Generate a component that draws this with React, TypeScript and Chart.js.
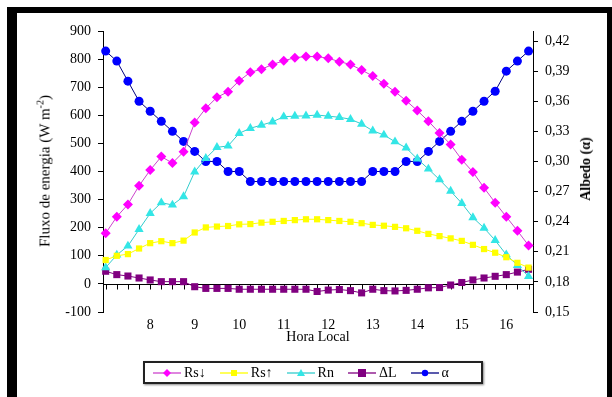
import React, { useEffect, useRef } from 'react';
import { Chart, registerables } from 'chart.js';

Chart.register(...registerables);

// Hora local (every 15 minutes)
const TIMES = [
  7, 7.25, 7.5, 7.75, 8, 8.25, 8.5, 8.75, 9, 9.25, 9.5, 9.75, 10,
  10.25, 10.5, 10.75, 11, 11.25, 11.5, 11.75, 12, 12.25, 12.5, 12.75,
  13, 13.25, 13.5, 13.75, 14, 14.25, 14.5, 14.75, 15, 15.25, 15.5, 15.75,
  16, 16.25, 16.5,
];

// Rs↓ (W m-2)
const RS_DOWN = [
  180, 239, 283, 349, 405, 453, 430, 470, 574, 625, 664, 684, 723,
  753, 764, 781, 794, 805, 809, 809, 803, 791, 781, 761,
  740, 712, 684, 652, 617, 579, 537, 496, 442, 398, 342, 289,
  239, 189, 137,
];

// Rs↑ (W m-2)
const RS_UP = [
  85, 100, 106, 126, 145, 152, 145, 154, 183, 201, 204, 206, 212,
  213, 218, 221, 224, 227, 230, 230, 227, 224, 221, 216,
  210, 207, 203, 198, 189, 178, 170, 162, 153, 139, 124, 111,
  95, 75, 58,
];

// Rn (W m-2)
const RN = [
  58, 103, 135, 194, 251, 289, 281, 311, 399, 447, 486, 491, 536,
  554, 565, 577, 595, 597, 598, 601, 597, 593, 586, 569,
  545, 530, 506, 484, 445, 409, 371, 330, 287, 236, 199, 155,
  104, 66, 27,
];

// ΔL (W m-2)
const DELTA_L = [
  45, 33, 28, 21, 14, 8, 8, 8, -10, -16, -16, -16, -19,
  -19, -19, -19, -19, -19, -19, -27, -22, -20, -24, -32,
  -19, -24, -25, -23, -19, -14, -13, -4, 5, 14, 21, 27,
  33, 42, 52,
];

// Albedo α
const ALBEDO = [
  0.41, 0.40, 0.38, 0.36, 0.35, 0.34, 0.33, 0.32, 0.31, 0.30, 0.30, 0.29, 0.29,
  0.28, 0.28, 0.28, 0.28, 0.28, 0.28, 0.28, 0.28, 0.28, 0.28, 0.28,
  0.29, 0.29, 0.29, 0.30, 0.30, 0.31, 0.32, 0.33, 0.34, 0.35, 0.36, 0.37,
  0.39, 0.40, 0.41,
];

const LEFT_TICKS = [-100, 0, 100, 200, 300, 400, 500, 600, 700, 800, 900];
const RIGHT_TICKS = [0.15, 0.18, 0.21, 0.24, 0.27, 0.30, 0.33, 0.36, 0.39, 0.42];
const X_LABELS = [8, 9, 10, 11, 12, 13, 14, 15, 16];

const SERIF = '"Liberation Serif", "Times New Roman", serif';

const pts = (ys: number[]) => TIMES.map((t, i) => ({ x: t, y: ys[i] }));

type LegendItem = { label: string; line: string; fill: string; shape: 'diamond' | 'square' | 'triangle' | 'bigsquare' | 'circle' };

const LEGEND: LegendItem[] = [
  { label: 'Rs\u2193', line: '#cc44cc', fill: '#ff00ff', shape: 'diamond' },
  { label: 'Rs\u2191', line: '#ffff00', fill: '#ffff00', shape: 'square' },
  { label: 'Rn', line: '#33cccc', fill: '#33e6e6', shape: 'triangle' },
  { label: '\u0394L', line: '#800080', fill: '#800080', shape: 'bigsquare' },
  { label: '\u03b1', line: '#000080', fill: '#0000ff', shape: 'circle' },
];

function Icon({ it }: { it: LegendItem }) {
  const c = 14;
  let m: React.ReactNode = null;
  if (it.shape === 'diamond') m = <polygon points={`${c},1 ${c + 4},5 ${c},9 ${c - 4},5`} fill={it.fill} />;
  if (it.shape === 'square') m = <rect x={c - 3} y={2} width={6} height={6} fill={it.fill} />;
  if (it.shape === 'bigsquare') m = <rect x={c - 4} y={1} width={8} height={8} fill={it.fill} />;
  if (it.shape === 'triangle') m = <polygon points={`${c},1 ${c + 4},8 ${c - 4},8`} fill={it.fill} />;
  if (it.shape === 'circle') m = <circle cx={c} cy={5} r={3.2} fill={it.fill} />;
  return (
    <svg width={28} height={10} style={{ display: 'block' }}>
      <line x1={0} y1={5} x2={28} y2={5} stroke={it.line} strokeWidth={1.3} />
      {m}
    </svg>
  );
}

export default function App() {
  const ref = useRef<HTMLCanvasElement>(null);

  useEffect(() => {
    const canvas = ref.current;
    if (!canvas) return;

    const zeroAxis = {
      id: 'zeroAxis',
      beforeDatasetsDraw(chart: any) {
        const { ctx, chartArea, scales } = chart;
        const y0 = Math.round(scales.y.getPixelForValue(0)) + 0.5;
        ctx.save();
        ctx.strokeStyle = '#000';
        ctx.lineWidth = 1;
        ctx.beginPath();
        ctx.moveTo(chartArea.left, y0);
        ctx.lineTo(chartArea.right, y0);
        scales.x.ticks.forEach((t: any) => {
          const x = Math.round(scales.x.getPixelForValue(t.value)) + 0.5;
          ctx.moveTo(x, y0);
          ctx.lineTo(x, y0 + 5);
        });
        ctx.stroke();
        ctx.restore();
      },
    };

    const ds = (label: string, data: any[], line: string, fill: string, style: any, radius: number, axis = 'y') => ({
      label,
      data,
      yAxisID: axis,
      borderColor: line,
      borderWidth: 1,
      backgroundColor: fill,
      pointBackgroundColor: fill,
      pointBorderColor: fill,
      pointBorderWidth: 0,
      pointStyle: style,
      pointRadius: radius,
      tension: 0,
      clip: 10,
    });

    const chart = new Chart(canvas, {
      type: 'line',
      data: {
        datasets: [
          ds('Rs\u2193', pts(RS_DOWN), '#cc44cc', '#ff00ff', 'rectRot', 5),
          ds('Rs\u2191', pts(RS_UP), '#ffff00', '#ffff00', 'rect', 4.4),
          ds('Rn', pts(RN), '#33cccc', '#33e6e6', 'triangle', 5.3),
          ds('\u0394L', pts(DELTA_L), '#800080', '#800080', 'rect', 5),
          ds('\u03b1', pts(ALBEDO), '#000080', '#0000ff', 'circle', 4.5, 'y1'),
        ] as any,
      },
      options: {
        animation: false,
        responsive: false,
        devicePixelRatio: 1,
        layout: { padding: { left: 0, right: 0, top: 31, bottom: 0 } },
        plugins: { legend: { display: false }, tooltip: { enabled: false } },
        scales: {
          x: {
            type: 'linear',
            min: 6.94,
            max: 16.6,
            afterBuildTicks: (s: any) => { s.ticks = TIMES.map((v) => ({ value: v })); },
            afterFit: (s: any) => { s.height = 85; },
            grid: { display: false, drawTicks: false },
            border: { display: false },
            ticks: {
              autoSkip: false,
              maxRotation: 0,
              padding: 5,
              color: '#000',
              font: { family: SERIF, size: 14 },
              callback: (v: any) => (X_LABELS.includes(Number(v)) ? String(v) : ''),
            },
          },
          y: {
            type: 'linear',
            position: 'left',
            min: -100,
            max: 900,
            afterBuildTicks: (s: any) => { s.ticks = LEFT_TICKS.map((v) => ({ value: v })); },
            afterFit: (s: any) => { s.width = 103; },
            grid: { drawOnChartArea: false, drawTicks: true, tickLength: 5, color: '#000' },
            border: { display: true, color: '#000', width: 1 },
            ticks: { padding: 7, color: '#000', font: { family: SERIF, size: 14 } },
          },
          y1: {
            type: 'linear',
            position: 'right',
            min: 0.15,
            max: 0.43,
            afterBuildTicks: (s: any) => { s.ticks = RIGHT_TICKS.map((v) => ({ value: v })); },
            afterFit: (s: any) => { s.width = 79; },
            grid: { drawOnChartArea: false, drawTicks: true, tickLength: 5, color: '#000' },
            border: { display: true, color: '#000', width: 1 },
            ticks: {
              padding: 7,
              color: '#000',
              font: { family: SERIF, size: 14 },
              callback: (v: any) => Number(v).toFixed(2).replace('.', ','),
            },
          },
        },
      },
      plugins: [zeroAxis],
    });

    return () => chart.destroy();
  }, []);

  return (
    <div style={{ position: 'absolute', left: 0, top: 0, width: 612, height: 397, background: '#fff', overflow: 'hidden', fontFamily: SERIF, color: '#000' }}>
      <div style={{ position: 'absolute', left: 7, top: 7, width: 605, height: 390, boxSizing: 'border-box', borderTop: '6px solid #000', borderLeft: '10px solid #000', borderRight: '5px solid #000' }} />
      <canvas ref={ref} width={612} height={397} style={{ position: 'absolute', left: 0, top: 0, width: 612, height: 397 }} />
      <div style={{ position: 'absolute', left: 44, top: 171, transform: 'translate(-50%, -50%) rotate(-90deg)', whiteSpace: 'nowrap', fontSize: 15 }}>
        Fluxo de energia (W m<sup style={{ fontSize: 10 }}>-2</sup>)
      </div>
      <div style={{ position: 'absolute', left: 586, top: 169, transform: 'translate(-50%, -50%) rotate(-90deg)', whiteSpace: 'nowrap', fontSize: 14, fontWeight: 'bold' }}>
        Albedo (&alpha;)
      </div>
      <div style={{ position: 'absolute', left: 318, top: 337, transform: 'translate(-50%, -50%)', whiteSpace: 'nowrap', fontSize: 14 }}>
        Hora Local
      </div>
      <div style={{ position: 'absolute', left: 143, top: 361, width: 340, height: 23, boxSizing: 'border-box', border: '2px solid #222', boxShadow: '1px 1px 2px #888', display: 'flex', alignItems: 'center', paddingLeft: 8, fontSize: 14 }}>
        {LEGEND.map((it, i) => (
          <div key={i} style={{ display: 'flex', alignItems: 'center', marginRight: i === LEGEND.length - 1 ? 0 : 14 }}>
            <Icon it={it} />
            <span style={{ marginLeft: 3 }}>{it.label}</span>
          </div>
        ))}
      </div>
    </div>
  );
}
